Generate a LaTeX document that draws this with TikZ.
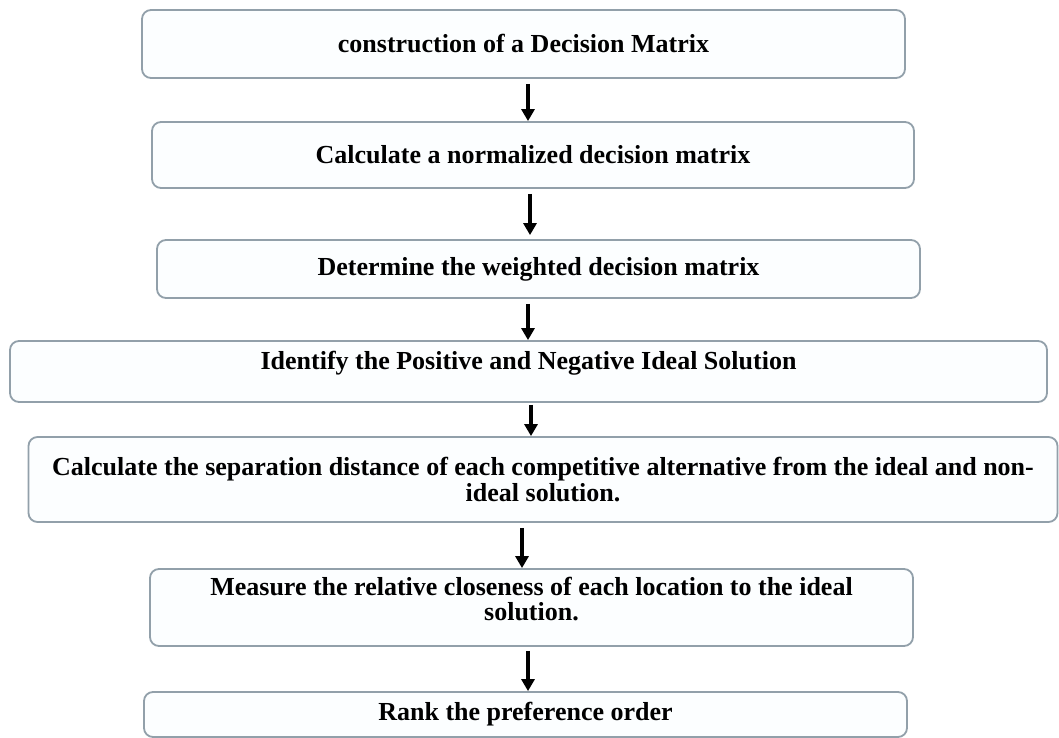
\documentclass[tikz,border=0pt]{standalone}
\usepackage{fontspec}
\setmainfont{Liberation Serif}
\usetikzlibrary{arrows.meta}
\definecolor{boxline}{RGB}{146,160,170}
\definecolor{boxfill}{RGB}{252,254,255}
\begin{document}
\begin{tikzpicture}[x=1pt,y=1pt,
  stepbox/.style={draw=boxline, fill=boxfill, line width=1.8pt, rounded corners=9pt,
    inner sep=0pt, align=center, font=\fontsize{26}{25.5}\selectfont\bfseries},
  arr/.style={line width=3.5pt, -{Triangle[width=13pt,length=12pt]}}]
\useasboundingbox (0,0) rectangle (1059,-738);
\fill[white] (0,0) rectangle (1059,-738);
\node[stepbox, minimum width=763pt, minimum height=68pt] (b1) at (523.5,-44) {construction of a Decision Matrix};
\node[stepbox, minimum width=762pt, minimum height=66pt] (b2) at (533,-155) {Calculate a normalized decision matrix};
\node[stepbox, minimum width=763pt, minimum height=58pt] (b3) at (538.5,-269) {Determine the weighted decision matrix};
\node[stepbox, minimum width=1037pt, minimum height=61pt, text depth=22pt] (b4) at (528.5,-371.5) {Identify the Positive and Negative Ideal Solution};
\node[stepbox, minimum width=1029pt, minimum height=85pt] (b5) at (543,-479.5) {Calculate the separation distance of each competitive alternative from the ideal and non-\\ideal solution.};
\node[stepbox, minimum width=763pt, minimum height=77pt, text depth=17pt] (b6) at (531.5,-607.5) {Measure the relative closeness of each location to the ideal\\solution.};
\node[stepbox, minimum width=763pt, minimum height=45pt] (b7) at (525.5,-714.5) {Rank the preference order};
\draw[arr] ([xshift=4.5pt,yshift=-5pt]b1.south) -- ([xshift=-5pt]b2.north);
\draw[arr] ([xshift=-3pt,yshift=-5pt]b2.south) -- ([xshift=-8.5pt,yshift=4pt]b3.north);
\draw[arr] ([xshift=-10.5pt,yshift=-5pt]b3.south) -- ([xshift=-0.5pt]b4.north);
\draw[arr] ([xshift=2.5pt,yshift=-2pt]b4.south) -- ([xshift=-12pt]b5.north);
\draw[arr] ([xshift=-21pt,yshift=-5pt]b5.south) -- ([xshift=-9.5pt]b6.north);
\draw[arr] ([xshift=-3.5pt,yshift=-4pt]b6.south) -- ([xshift=2.5pt]b7.north);
\end{tikzpicture}
\end{document}
